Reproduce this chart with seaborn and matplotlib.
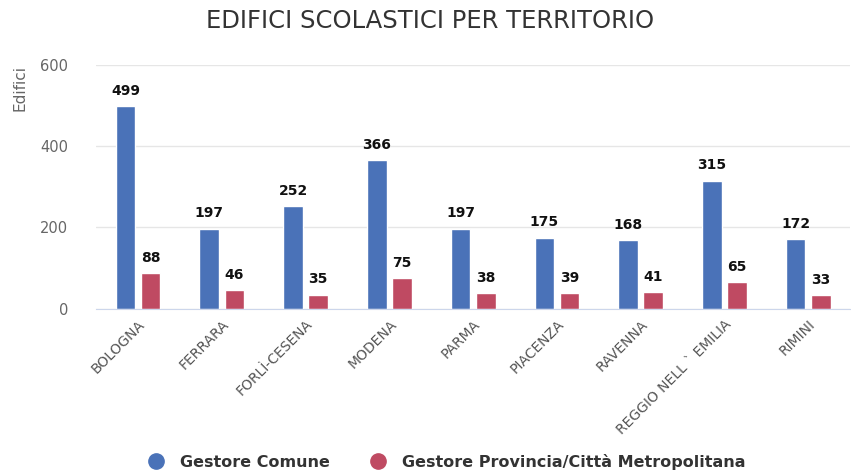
import numpy as np
import matplotlib.pyplot as plt
import seaborn as sns
import pandas as pd
from matplotlib.lines import Line2D

territori = ['BOLOGNA', 'FERRARA', 'FORLÌ-CESENA', 'MODENA', 'PARMA', 'PIACENZA',
             'RAVENNA', 'REGGIO NELL ` EMILIA', 'RIMINI']
comune = [499, 197, 252, 366, 197, 175, 168, 315, 172]
provincia = [88, 46, 35, 75, 38, 39, 41, 65, 33]
serie = ['Gestore Comune', 'Gestore Provincia/Città Metropolitana']
colori = ['#4a72b8', '#bf4a62']

df = pd.DataFrame({
    'territorio': territori * 2,
    'edifici': comune + provincia,
    'serie': [serie[0]] * len(territori) + [serie[1]] * len(territori),
})

sns.set_style('white')
plt.rcParams['font.family'] = ['DejaVu Sans']

fig = plt.figure(figsize=(8.51, 4.70), dpi=100)
ax = fig.add_axes([0.113, 0.343, 0.886, 0.519])
sns.barplot(data=df, x='territorio', y='edifici', hue='serie', palette=colori,
            width=0.6, gap=0.22, ax=ax, legend=False, saturation=1)

for c in ax.containers:
    ax.bar_label(c, padding=6, fontsize=10, fontweight='bold', color='#111111')

ax.set_ylim(0, 600)
ax.set_yticks([0, 200, 400, 600])
ax.set_xlim(-0.5, len(territori) - 0.5)
ax.yaxis.grid(True, color='#e6e6e6', linewidth=1)
ax.set_axisbelow(True)
for s in ['top', 'right', 'left']:
    ax.spines[s].set_visible(False)
ax.spines['bottom'].set_color('#ccd6eb')
ax.tick_params(axis='y', length=0, labelsize=10.5, labelcolor='#666666', pad=20)

ax.set_xticks(np.arange(len(territori)))
ax.set_xticklabels(territori, rotation=45, ha='right', rotation_mode='anchor',
                   fontsize=10, color='#555555')
ax.tick_params(axis='x', length=0, pad=6)
ax.set_xticks(np.arange(len(territori) + 1) - 0.5, minor=True)
ax.tick_params(axis='x', which='minor', length=10, color='#ccd6eb', width=1)
ax.set_xlabel('')
ax.set_ylabel('')

fig.text(0.024, 0.862, 'Edifici', rotation=90, ha='center', va='top',
         fontsize=11, color='#666666')
fig.text(0.505, 0.955, 'EDIFICI SCOLASTICI PER TERRITORIO', ha='center', va='center',
         fontsize=17.5, color='#333333')

handles = [Line2D([0], [0], marker='o', linestyle='', markersize=11,
                  markerfacecolor=c, markeredgecolor=c) for c in colori]
leg = fig.legend(handles, serie, loc='center', bbox_to_anchor=(0.52, 0.017),
                 ncol=2, frameon=False, handletextpad=0.5, columnspacing=2.0,
                 prop={'weight': 'bold', 'size': 11.5})
for t in leg.get_texts():
    t.set_color('#333333')

fig.savefig('out.png', dpi=100)
